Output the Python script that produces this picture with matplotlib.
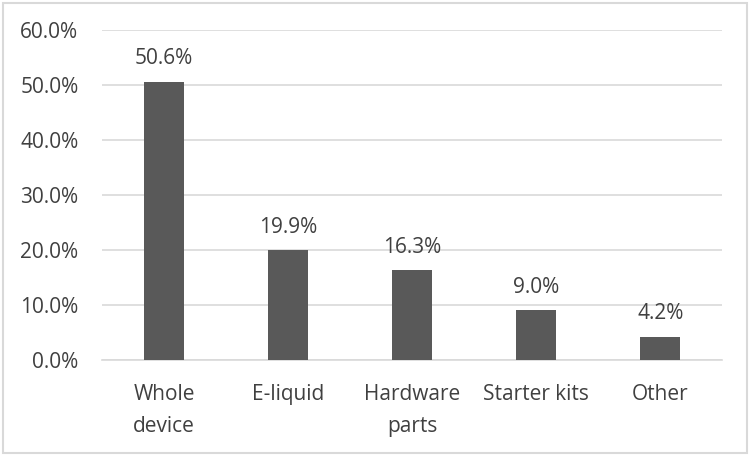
import matplotlib
matplotlib.use("Agg")
import matplotlib.pyplot as plt
from matplotlib.patches import Rectangle

# Data
categories = ["Whole\ndevice", "E-liquid", "Hardware\nparts", "Starter kits", "Other"]
shares = [50.6, 19.9, 16.3, 9.0, 4.2]
yticks = [0, 10, 20, 30, 40, 50, 60]

plt.rcParams['font.family'] = ['Open Sans', 'DejaVu Sans']
text_color = '#404040'
fs = 15

fig = plt.figure(figsize=(7.5, 4.55), dpi=100)
ax = fig.add_axes([0.136, 0.209, 0.827, 0.725])

x = range(len(categories))
ax.bar(x, shares, width=0.32, color='#595959', zorder=3)

# value labels above bars
for i, v in enumerate(shares):
    ax.annotate(f'{v:.1f}%', (i, v), xytext=(0, 9), textcoords='offset points',
                ha='center', va='bottom', fontsize=fs, color=text_color)

ax.set_ylim(0, 60)
ax.set_xlim(-0.5, len(categories) - 0.5)
ax.set_yticks(yticks)
ax.set_yticklabels([f'{t:.1f}%' for t in yticks], fontsize=fs, color=text_color)
ax.set_xticks(list(x))
ax.set_xticklabels(categories, fontsize=fs, color=text_color, va='top',
                   linespacing=1.7)
ax.tick_params(axis='both', length=0)
ax.tick_params(axis='y', pad=17)
ax.tick_params(axis='x', pad=17)

ax.grid(axis='y', color='#d9d9d9', linewidth=1.2, zorder=0)
for side in ['top', 'right', 'left']:
    ax.spines[side].set_visible(False)
ax.spines['bottom'].set_color('#d9d9d9')
ax.spines['bottom'].set_linewidth(1.2)

# chart border
fig.patches.append(Rectangle((0.004, 0.004), 0.992, 0.99, transform=fig.transFigure,
                             fill=False, edgecolor='#d9d9d9', linewidth=1.5))

fig.savefig('out.png', dpi=100)
